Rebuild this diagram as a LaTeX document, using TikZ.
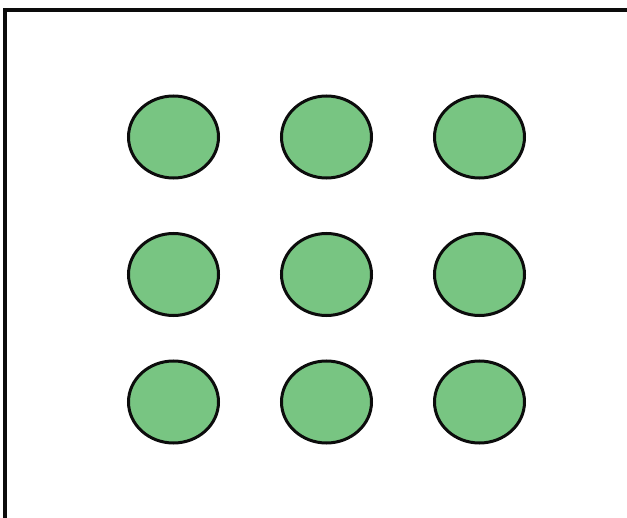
\documentclass[tikz,border=0pt]{standalone}
\usetikzlibrary{matrix,shapes.geometric}

\definecolor{dotgreen}{RGB}{120,197,130}
\definecolor{dotedge}{RGB}{12,12,12}

\begin{document}
\begin{tikzpicture}[x=1pt,y=1pt]
    \useasboundingbox (0,0) rectangle (627,-518);
    % frame, top and left side only
    \coordinate (fbl) at (5,-518);
    \coordinate (ftl) at (5,-10);
    \coordinate (ftr) at (627,-10);
    \draw[line width=4pt, color=dotedge] (fbl) -- (ftl) -- (ftr);
    \matrix (grid) [matrix of nodes,
            ampersand replacement=\&,
            nodes={ellipse, draw=dotedge, fill=dotgreen, line width=3pt, minimum width=90pt, minimum height=82pt, inner sep=0pt, outer sep=0pt},
            row sep=42.5pt,
            column sep=60pt] at (326.5,-269.5) {
      {} \& {} \& {} \\[10pt]
      {} \& {} \& {} \\
      {} \& {} \& {} \\
    };
    \end{tikzpicture}
\end{document}
